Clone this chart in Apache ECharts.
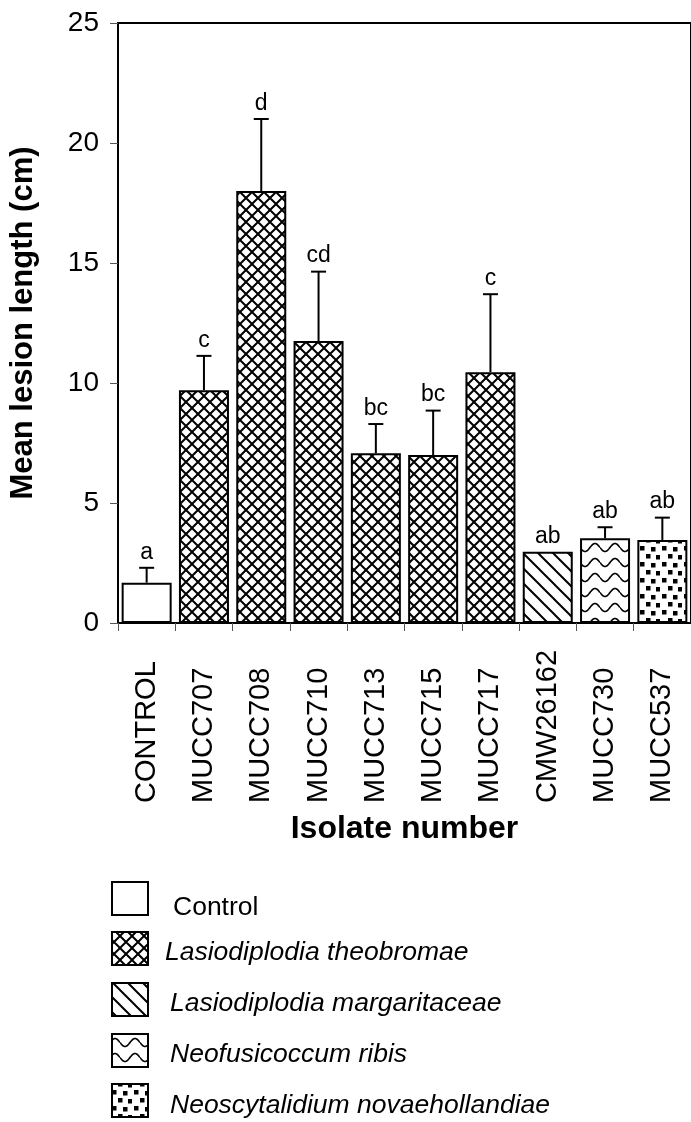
<!DOCTYPE html>
<html>
<head>
<meta charset="utf-8">
<script src="https://cdn.jsdelivr.net/npm/echarts@6/dist/echarts.min.js"></script>
<style>
  html, body { margin: 0; padding: 0; background: #fff; }
  #chart { width: 691px; height: 1122px; }
</style>
</head>
<body>
<div id="chart"></div>
<script>
// ---- data ----
const categories = ['CONTROL', 'MUCC707', 'MUCC708', 'MUCC710', 'MUCC713', 'MUCC715', 'MUCC717', 'CMW26162', 'MUCC730', 'MUCC537'];
const meanLesion = [1.68, 9.7, 18.0, 11.75, 7.07, 7.0, 10.45, 2.97, 3.53, 3.46];
const errorUpper = [0.62, 1.43, 3.0, 2.89, 1.22, 1.85, 3.25, 0, 0.46, 0.93];
const letters = ['a', 'c', 'd', 'cd', 'bc', 'bc', 'c', 'ab', 'ab', 'ab'];
const speciesOf = [0, 1, 1, 1, 1, 1, 1, 2, 3, 4];
const speciesNames = ['Control', 'Lasiodiplodia theobromae', 'Lasiodiplodia margaritaceae', 'Neofusicoccum ribis', 'Neoscytalidium novaehollandiae'];
const yTicks = [0, 5, 10, 15, 20, 25];

const FONT = '"Liberation Sans", Arial, sans-serif';

// ---- patterns ----
function makeTile(kind) {
  const c = document.createElement('canvas');
  let w = 12, h = 12;
  if (kind === 'diag') { w = 15; h = 15; }
  if (kind === 'wave') { w = 20; h = 15; }
  if (kind === 'dots') { w = 22; h = 16; }
  c.width = w; c.height = h;
  const g = c.getContext('2d');
  g.fillStyle = '#fff';
  g.fillRect(0, 0, w, h);
  g.strokeStyle = '#000';
  g.fillStyle = '#000';
  if (kind === 'cross') {
    g.lineWidth = 2;
    g.beginPath();
    g.moveTo(-1, -1); g.lineTo(w + 1, h + 1);
    g.moveTo(w + 1, -1); g.lineTo(-1, h + 1);
    g.stroke();
  } else if (kind === 'diag') {
    g.lineWidth = 2;
    g.beginPath();
    [-w, 0, w].forEach(o => { g.moveTo(o - 1, -1); g.lineTo(o + w + 1, h + 1); });
    g.stroke();
  } else if (kind === 'wave') {
    g.lineWidth = 1.6;
    g.beginPath();
    for (let x = 0; x <= w; x += 0.5) {
      const y = h / 2 + 4 * Math.sin(2 * Math.PI * x / w);
      if (x === 0) g.moveTo(x, y); else g.lineTo(x, y);
    }
    g.stroke();
  } else if (kind === 'dots') {
    [[2, 2], [13, 3], [8, 10], [18, 11]].forEach(p => g.fillRect(p[0], p[1], 4.5, 4.5));
  }
  return c;
}
const patternKinds = ['none', 'cross', 'diag', 'wave', 'dots'];
const fills = patternKinds.map(k => k === 'none' ? '#ffffff' : { image: makeTile(k), repeat: 'repeat' });

const chart = echarts.init(document.getElementById('chart'), null, { renderer: 'canvas' });

const barData = meanLesion.map((v, i) => ({
  value: v,
  itemStyle: { color: fills[speciesOf[i]], borderColor: '#000', borderWidth: 2 }
}));

const errData = categories.map((c, i) => [i, meanLesion[i], errorUpper[i]]);

// legend graphics
const legendRows = [882, 932, 983, 1034, 1084];
const legendTextX = [173, 165, 170, 170, 170];
const legendTextDy = [26, 21, 21, 21, 22];
const legendGraphics = [];
speciesNames.forEach((name, k) => {
  legendGraphics.push({
    type: 'rect',
    shape: { x: 112, y: legendRows[k], width: 36, height: 33 },
    style: { fill: fills[k], stroke: '#000', lineWidth: 2 }
  });
  legendGraphics.push({
    type: 'text',
    style: {
      x: legendTextX[k], y: legendRows[k] + legendTextDy[k],
      text: name,
      fill: '#000',
      font: (k === 0 ? '' : 'italic ') + '26.5px ' + FONT,
      verticalAlign: 'middle', align: 'left'
    }
  });
});

const option = {
  backgroundColor: '#fff',
  animation: false,
  grid: { left: 117, top: 23, width: 582, height: 600, show: true, borderColor: '#000', borderWidth: 2, backgroundColor: 'transparent' },
  xAxis: {
    type: 'category',
    data: categories,
    name: 'Isolate number',
    nameLocation: 'middle',
    nameGap: 190,
    nameTextStyle: { fontFamily: FONT, fontWeight: 'bold', fontSize: 32, color: '#000' },
    axisLine: { lineStyle: { color: '#000', width: 2 } },
    axisTick: { show: true, length: 8, lineStyle: { color: '#555', width: 1 } },
    axisLabel: { rotate: 90, align: 'left', margin: 180, fontFamily: FONT, fontSize: 29, color: '#000', interval: 0 },
    splitLine: { show: false }
  },
  yAxis: {
    type: 'value',
    min: 0, max: 25, interval: 5,
    name: 'Mean lesion length (cm)',
    nameLocation: 'middle',
    nameGap: 79,
    nameTextStyle: { fontFamily: FONT, fontWeight: 'bold', fontSize: 31, color: '#000' },
    axisLine: { show: true, lineStyle: { color: '#000', width: 2 } },
    axisTick: { show: true, length: 8, lineStyle: { color: '#555', width: 1 } },
    axisLabel: {
      margin: 19, fontFamily: FONT, fontSize: 28, color: '#000',
      formatter: v => (yTicks.indexOf(v) >= 0 ? String(v) : '')
    },
    splitLine: { show: false }
  },
  series: [
    {
      type: 'bar',
      data: barData,
      barWidth: 50,
      z: 2
    },
    {
      type: 'custom',
      data: errData,
      z: 5,
      renderItem: function (params, api) {
        const i = api.value(0), v = api.value(1), e = api.value(2);
        const base = api.coord([i, v]);
        const top = api.coord([i, v + e]);
        const children = [];
        if (e > 0) {
          children.push({ type: 'line', shape: { x1: base[0], y1: base[1], x2: top[0], y2: top[1] }, style: { stroke: '#000', lineWidth: 2 } });
          children.push({ type: 'line', shape: { x1: top[0] - 7.5, y1: top[1], x2: top[0] + 7.5, y2: top[1] }, style: { stroke: '#000', lineWidth: 2 } });
        }
        children.push({
          type: 'text',
          style: { x: top[0], y: top[1] - 4, text: letters[params.dataIndex], fill: '#000', font: '23px ' + FONT, align: 'center', verticalAlign: 'bottom' }
        });
        return { type: 'group', children: children };
      }
    }
  ],
  graphic: legendGraphics
};
chart.setOption(option);
</script>
</body>
</html>
